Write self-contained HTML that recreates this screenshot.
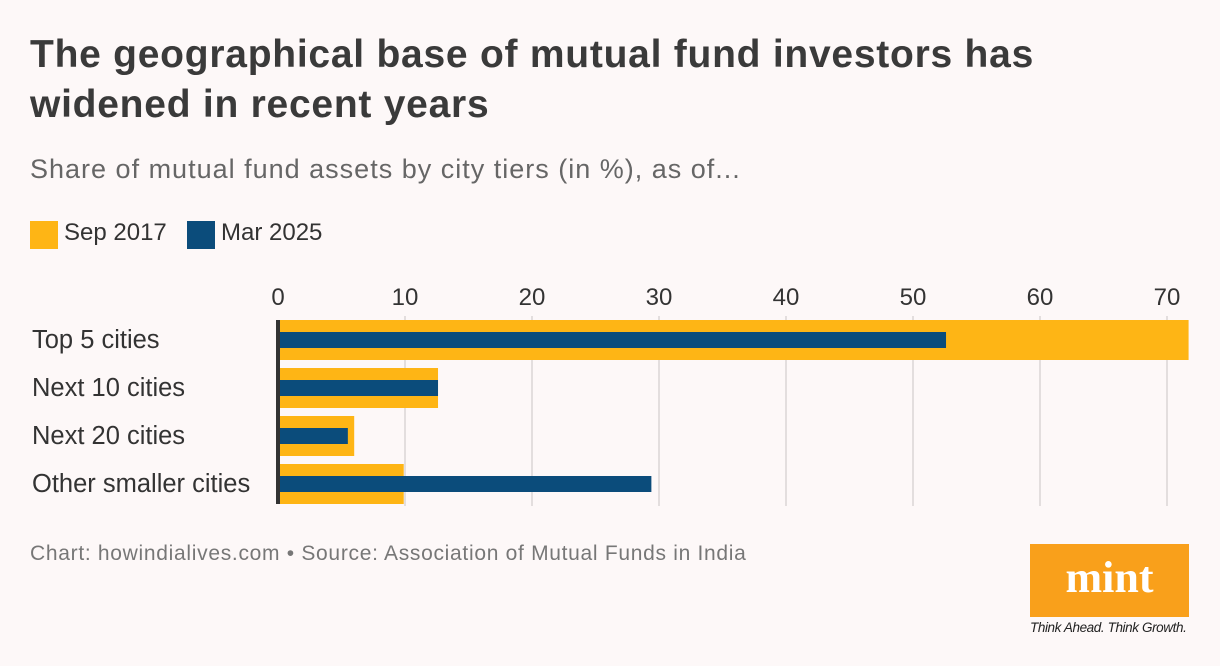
<!DOCTYPE html>
<html><head><meta charset="utf-8"><style>
body{margin:0;background:#fdf8f8;font-family:"Liberation Sans",sans-serif;}
#wrap{position:relative;width:1220px;height:666px;overflow:hidden;background:#fdf8f8;}
.t{position:absolute;white-space:nowrap;}
</style></head><body>
<div id="wrap">
<div class="t" style="left:30px;top:30px;font-size:39px;font-weight:bold;color:#3a3a3a;line-height:50px;letter-spacing:0.75px">The geographical base of mutual fund investors has<br>widened in recent years</div>
<div class="t" style="left:30px;top:154px;font-size:27px;color:#666;letter-spacing:1px">Share of mutual fund assets by city tiers (in %), as of...</div>
<div style="position:absolute;left:30px;top:221px;width:28px;height:28px;background:#feb515"></div>
<div class="t" style="left:64px;top:219px;font-size:24px;color:#333">Sep 2017</div>
<div style="position:absolute;left:187px;top:221px;width:28px;height:28px;background:#0b4c7b"></div>
<div class="t" style="left:221px;top:219px;font-size:24px;color:#333">Mar 2025</div>
<svg id="chart" width="1220" height="666" style="position:absolute;left:0;top:0"></svg>
<div class="t" style="left:30px;top:542px;font-size:21px;color:#777;letter-spacing:0.7px">Chart: howindialives.com • Source: Association of Mutual Funds in India</div>
<div style="position:absolute;left:1030px;top:544px;width:159px;height:73px;background:#f9a01b;color:#fff;font-family:'Liberation Serif',serif;font-weight:bold;font-size:44px;text-align:center;line-height:68px">mint</div>
<div class="t" style="left:1030px;top:620px;font-size:13.5px;font-style:italic;color:#222;letter-spacing:-0.4px">Think Ahead. Think Growth.</div>
</div>
<script>
const categories=["Top 5 cities","Next 10 cities","Next 20 cities","Other smaller cities"];
const sep2017=[71.7,12.6,6.0,9.9];
const mar2025=[52.6,12.6,5.5,29.4];
const ticks=[0,10,20,30,40,50,60,70];
const svg=document.getElementById('chart');
const NS='http://www.w3.org/2000/svg';
const x=v=>278+v*12.7;
const rowY=i=>320+i*48;
function mk(t,a){const e=document.createElementNS(NS,t);for(const k in a)e.setAttribute(k,a[k]);svg.appendChild(e);return e;}
ticks.forEach(t=>{
  if(t>0){const g=mk('line',{x1:x(t),x2:x(t),y1:316,y2:506,stroke:'#e3dede','stroke-width':2});
  
  }
  const l=mk('text',{x:x(t),y:305,'text-anchor':'middle','font-size':24,fill:'#333','font-family':'Liberation Sans, sans-serif'});
  l.textContent=t;
  
  
});
categories.forEach((c,i)=>{
  const y=rowY(i);
  const a=mk('rect',{x:x(0),y:y,width:x(sep2017[i])-x(0),height:40,fill:'#feb515'});
  
  
  const b=mk('rect',{x:x(0),y:y+12,width:x(mar2025[i])-x(0),height:16,fill:'#0b4c7b'});
  
  
  const l=mk('text',{x:32,y:y+28,'font-size':25.5,fill:'#333','font-family':'Liberation Sans, sans-serif'});
  l.textContent=c;
  
  
});
const ax=mk('rect',{x:276,y:320,width:4,height:184,fill:'#333'});


</script>
</body></html>
